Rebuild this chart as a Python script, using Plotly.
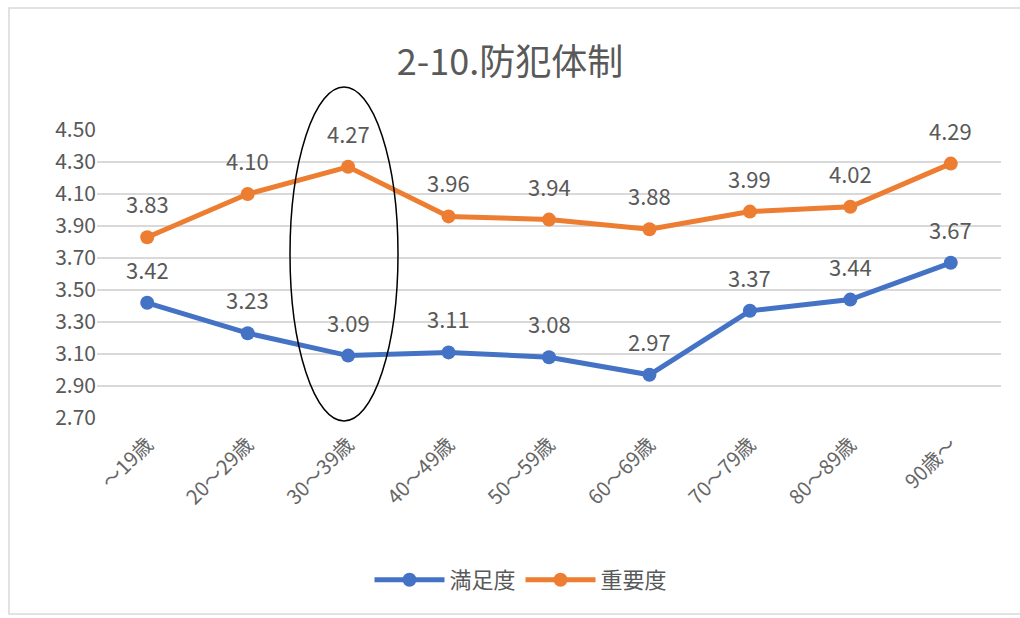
import plotly.graph_objects as go

categories = ["～19歳", "20～29歳", "30～39歳", "40～49歳", "50～59歳",
              "60～69歳", "70～79歳", "80～89歳", "90歳～"]
satisfaction = [3.42, 3.23, 3.09, 3.11, 3.08, 2.97, 3.37, 3.44, 3.67]
importance = [3.83, 4.10, 4.27, 3.96, 3.94, 3.88, 3.99, 4.02, 4.29]
y_ticks = [2.70, 2.90, 3.10, 3.30, 3.50, 3.70, 3.90, 4.10, 4.30, 4.50]

FONT = "Noto Sans CJK JP"
BLUE = "#4472C4"
ORANGE = "#ED7D31"
GRAY = "#595959"

fig = go.Figure()
for name, vals, col in [("満足度", satisfaction, BLUE), ("重要度", importance, ORANGE)]:
    fig.add_trace(go.Scatter(
        x=categories, y=vals, name=name, mode="lines+markers",
        line=dict(color=col, width=5),
        marker=dict(color=col, size=14),
    ))
    for c, v in zip(categories, vals):
        fig.add_annotation(x=c, y=v, text=f"{v:.2f}", showarrow=False,
                           yshift=34, font=dict(family=FONT, size=22, color=GRAY))

W, H = 1020, 618
L, R, T, B = 97, 19, 130, 200
pw, ph = W - L - R, H - T - B
# chart border (Excel chart area outline)
fig.add_shape(type="rect", xref="paper", yref="paper",
              x0=(9 - L) / pw, x1=(1030 - L) / pw,
              y0=(H - B - 614) / ph, y1=(H - B - 8) / ph,
              line=dict(color="#D9D9D9", width=1.5), layer="below")
# hand-drawn ellipse around 30～39歳
fig.add_shape(type="circle", xref="paper", yref="paper",
              x0=(290 - L) / pw, x1=(398 - L) / pw,
              y0=(H - B - 421) / ph, y1=(H - B - 87) / ph,
              line=dict(color="black", width=1.5))

fig.update_layout(
    width=W, height=H,
    margin=dict(l=L, r=R, t=T, b=B, autoexpand=False),
    paper_bgcolor="white", plot_bgcolor="white",
    title=dict(text="2-10.防犯体制", x=0.5, xanchor="center", y=1 - 62 / H, yanchor="middle",
               font=dict(family=FONT, size=36, color=GRAY)),
    font=dict(family=FONT, color=GRAY),
    xaxis=dict(type="category", tickangle=-45, showgrid=False, showline=False,
               ticks="", ticklabelstandoff=10,
               tickfont=dict(family=FONT, size=20, color="#666666"),
               range=[-0.5, 8.5]),
    yaxis=dict(range=[2.70, 4.50], tickvals=y_ticks,
               ticktext=[f"{t:.2f}" for t in y_ticks],
               showgrid=True, gridcolor="#D9D9D9", gridwidth=1.5, zeroline=False,
               showline=False, ticks="", tickfont=dict(family=FONT, size=21, color=GRAY)),
    legend=dict(orientation="h", x=(521 - L) / pw, xanchor="center",
                y=-(580 - (H - B)) / ph, yanchor="middle",
                font=dict(family=FONT, size=22, color=GRAY), itemwidth=70),
    showlegend=True,
)

fig.write_html("out.html", config={"displayModeBar": False},
               post_script="document.body.style.margin='0';")
